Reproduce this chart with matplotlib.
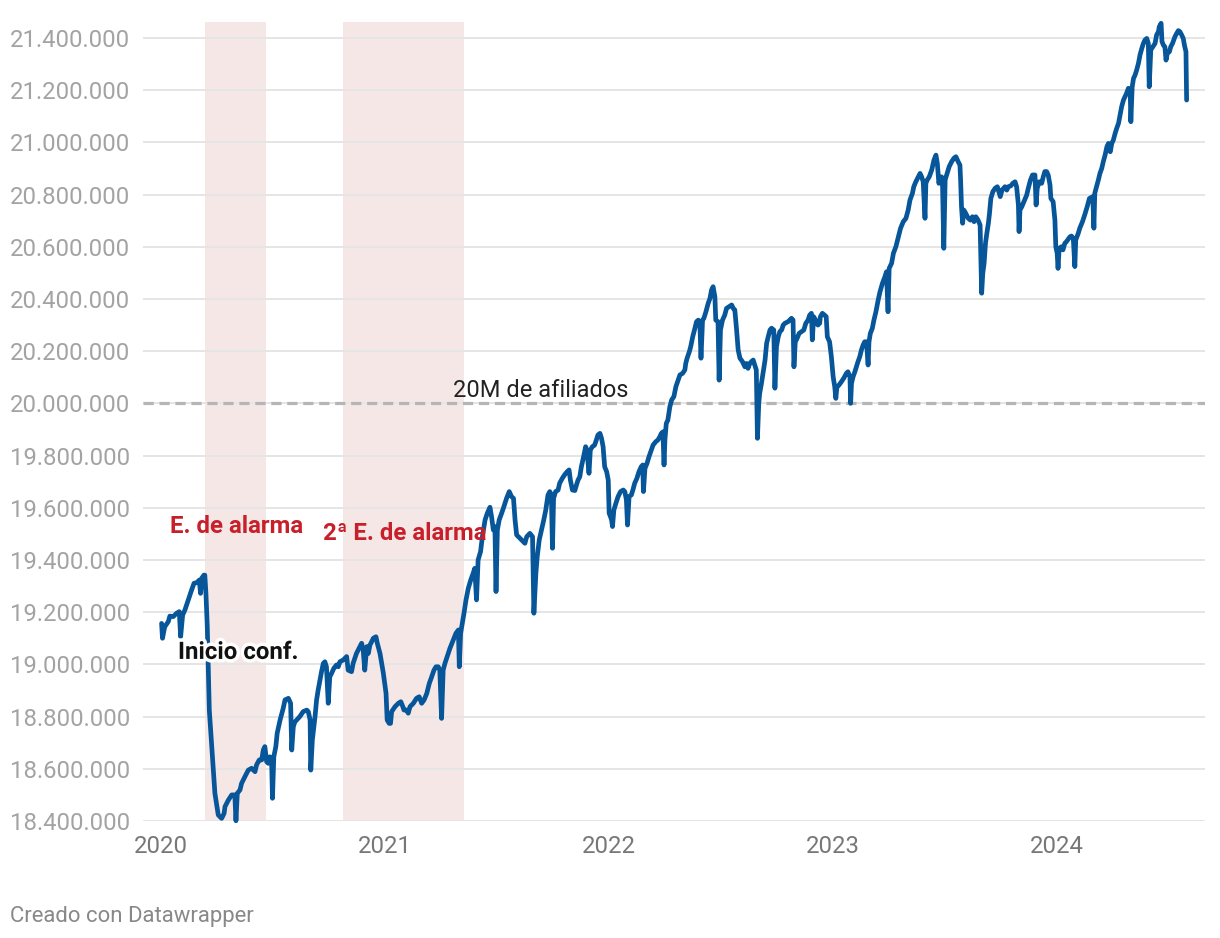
import matplotlib.pyplot as plt
import matplotlib.patheffects as pe

plt.rcParams["font.family"] = ["Roboto", "DejaVu Sans"]

# fecha en años decimales, afiliados en miles
fecha = [
    2020.003, 2020.007, 2020.017, 2020.033, 2020.040, 2020.055, 2020.070, 2020.082, 2020.088, 2020.097,
    2020.107, 2020.122, 2020.137, 2020.148, 2020.160, 2020.171, 2020.177, 2020.182, 2020.192, 2020.196,
    2020.201, 2020.207, 2020.216, 2020.226, 2020.241, 2020.256, 2020.271, 2020.282, 2020.286, 2020.301,
    2020.316, 2020.330, 2020.335, 2020.341, 2020.353, 2020.360, 2020.375, 2020.390, 2020.405, 2020.420,
    2020.427, 2020.439, 2020.450, 2020.457, 2020.464, 2020.472, 2020.479, 2020.486, 2020.494, 2020.498,
    2020.504, 2020.513, 2020.519, 2020.532, 2020.546, 2020.554, 2020.569, 2020.579, 2020.584, 2020.591,
    2020.598, 2020.606, 2020.620, 2020.635, 2020.651, 2020.658, 2020.666, 2020.669, 2020.676, 2020.688,
    2020.695, 2020.702, 2020.710, 2020.717, 2020.725, 2020.732, 2020.739, 2020.747, 2020.754, 2020.762,
    2020.772, 2020.784, 2020.792, 2020.799, 2020.814, 2020.829, 2020.836, 2020.851, 2020.858, 2020.873,
    2020.888, 2020.896, 2020.903, 2020.910, 2020.919, 2020.926, 2020.933, 2020.941, 2020.948, 2020.960,
    2020.966, 2020.978, 2020.993, 2021.005, 2021.010, 2021.019, 2021.025, 2021.030, 2021.045, 2021.060,
    2021.071, 2021.080, 2021.085, 2021.097, 2021.104, 2021.112, 2021.127, 2021.141, 2021.153, 2021.164,
    2021.175, 2021.187, 2021.198, 2021.209, 2021.219, 2021.228, 2021.238, 2021.245, 2021.253, 2021.260,
    2021.268, 2021.278, 2021.290, 2021.305, 2021.317, 2021.328, 2021.332, 2021.338, 2021.347, 2021.353,
    2021.362, 2021.372, 2021.383, 2021.394, 2021.401, 2021.409, 2021.416, 2021.427, 2021.435, 2021.447,
    2021.457, 2021.469, 2021.476, 2021.484, 2021.491, 2021.496, 2021.502, 2021.510, 2021.521, 2021.531,
    2021.543, 2021.555, 2021.565, 2021.574, 2021.581, 2021.588, 2021.603, 2021.618, 2021.625, 2021.633,
    2021.647, 2021.659, 2021.665, 2021.674, 2021.680, 2021.689, 2021.699, 2021.709, 2021.718, 2021.728,
    2021.736, 2021.743, 2021.748, 2021.753, 2021.762, 2021.773, 2021.780, 2021.792, 2021.802, 2021.813,
    2021.822, 2021.828, 2021.837, 2021.848, 2021.855, 2021.862, 2021.870, 2021.877, 2021.887, 2021.896,
    2021.902, 2021.911, 2021.917, 2021.926, 2021.936, 2021.944, 2021.951, 2021.960, 2021.967, 2021.974,
    2021.981, 2021.990, 2021.997, 2022.001, 2022.007, 2022.012, 2022.016, 2022.022, 2022.031, 2022.041,
    2022.052, 2022.064, 2022.071, 2022.078, 2022.083, 2022.090, 2022.100, 2022.107, 2022.115, 2022.125,
    2022.134, 2022.144, 2022.151, 2022.154, 2022.161, 2022.170, 2022.179, 2022.189, 2022.197, 2022.209,
    2022.219, 2022.227, 2022.234, 2022.241, 2022.246, 2022.250, 2022.256, 2022.263, 2022.272, 2022.280,
    2022.290, 2022.299, 2022.309, 2022.317, 2022.329, 2022.339, 2022.343, 2022.349, 2022.359, 2022.365,
    2022.374, 2022.384, 2022.391, 2022.399, 2022.406, 2022.411, 2022.418, 2022.424, 2022.433, 2022.443,
    2022.451, 2022.458, 2022.465, 2022.473, 2022.477, 2022.487, 2022.492, 2022.498, 2022.507, 2022.517,
    2022.525, 2022.536, 2022.548, 2022.555, 2022.562, 2022.570, 2022.577, 2022.585, 2022.596, 2022.607,
    2022.614, 2022.621, 2022.629, 2022.636, 2022.644, 2022.651, 2022.658, 2022.663, 2022.669, 2022.673,
    2022.681, 2022.688, 2022.697, 2022.704, 2022.711, 2022.719, 2022.726, 2022.736, 2022.741, 2022.748,
    2022.756, 2022.763, 2022.771, 2022.778, 2022.786, 2022.800, 2022.815, 2022.822, 2022.826, 2022.832,
    2022.840, 2022.849, 2022.860, 2022.870, 2022.879, 2022.889, 2022.896, 2022.904, 2022.908, 2022.914,
    2022.923, 2022.933, 2022.941, 2022.944, 2022.953, 2022.963, 2022.970, 2022.975, 2022.985, 2022.993,
    2023.001, 2023.008, 2023.013, 2023.018, 2023.027, 2023.038, 2023.048, 2023.060, 2023.067, 2023.076,
    2023.079, 2023.083, 2023.090, 2023.098, 2023.105, 2023.112, 2023.120, 2023.127, 2023.135, 2023.142,
    2023.150, 2023.157, 2023.161, 2023.167, 2023.176, 2023.183, 2023.192, 2023.202, 2023.210, 2023.221,
    2023.232, 2023.239, 2023.246, 2023.251, 2023.262, 2023.270, 2023.281, 2023.292, 2023.302, 2023.314,
    2023.326, 2023.336, 2023.344, 2023.355, 2023.361, 2023.370, 2023.381, 2023.389, 2023.396, 2023.403,
    2023.411, 2023.415, 2023.421, 2023.430, 2023.441, 2023.451, 2023.460, 2023.466, 2023.473, 2023.477,
    2023.485, 2023.489, 2023.495, 2023.501, 2023.510, 2023.519, 2023.530, 2023.540, 2023.549, 2023.559,
    2023.567, 2023.570, 2023.574, 2023.579, 2023.584, 2023.593, 2023.604, 2023.614, 2023.623, 2023.630,
    2023.638, 2023.648, 2023.657, 2023.664, 2023.669, 2023.675, 2023.681, 2023.687, 2023.694, 2023.699,
    2023.705, 2023.714, 2023.724, 2023.734, 2023.747, 2023.755, 2023.762, 2023.768, 2023.776, 2023.783,
    2023.794, 2023.803, 2023.813, 2023.820, 2023.828, 2023.831, 2023.835, 2023.843, 2023.853, 2023.865,
    2023.872, 2023.882, 2023.891, 2023.902, 2023.907, 2023.912, 2023.921, 2023.932, 2023.939, 2023.946,
    2023.954, 2023.961, 2023.969, 2023.973, 2023.983, 2023.991, 2023.995, 2024.001, 2024.005, 2024.010,
    2024.020, 2024.027, 2024.035, 2024.042, 2024.058, 2024.065, 2024.073, 2024.080, 2024.084, 2024.095,
    2024.102, 2024.114, 2024.124, 2024.135, 2024.145, 2024.160, 2024.165, 2024.169, 2024.177, 2024.185,
    2024.192, 2024.200, 2024.207, 2024.215, 2024.223, 2024.230, 2024.238, 2024.245, 2024.252, 2024.260,
    2024.267, 2024.275, 2024.282, 2024.289, 2024.297, 2024.304, 2024.311, 2024.319, 2024.327, 2024.330,
    2024.336, 2024.342, 2024.349, 2024.356, 2024.364, 2024.371, 2024.379, 2024.386, 2024.393, 2024.401,
    2024.408, 2024.412, 2024.419, 2024.428, 2024.438, 2024.445, 2024.453, 2024.457, 2024.465, 2024.469,
    2024.475, 2024.482, 2024.487, 2024.493, 2024.502, 2024.508, 2024.516, 2024.527, 2024.535, 2024.542,
    2024.549, 2024.557, 2024.564, 2024.569, 2024.576, 2024.579,
]

afiliados_miles = [
    19157, 19100, 19144, 19164, 19185, 19183, 19196, 19202, 19106, 19189,
    19208, 19247, 19285, 19311, 19313, 19323, 19272, 19330, 19342, 19342,
    19272, 19144, 18825, 18698, 18506, 18423, 18410, 18429, 18455, 18480,
    18500, 18500, 18401, 18506, 18519, 18544, 18570, 18595, 18602, 18589,
    18615, 18634, 18634, 18672, 18685, 18627, 18621, 18646, 18634, 18487,
    18646, 18685, 18736, 18787, 18832, 18864, 18870, 18851, 18672, 18761,
    18780, 18787, 18800, 18819, 18825, 18819, 18787, 18595, 18710, 18800,
    18864, 18902, 18940, 18972, 19004, 19010, 18991, 18851, 18953, 18966,
    18985, 18998, 18991, 19010, 19017, 19030, 18978, 18972, 19004, 19042,
    19068, 19081, 19055, 18978, 19068, 19042, 19074, 19087, 19100, 19106,
    19081, 19042, 18966, 18889, 18787, 18774, 18774, 18819, 18838, 18851,
    18857, 18838, 18825, 18825, 18813, 18838, 18851, 18870, 18876, 18851,
    18864, 18889, 18927, 18953, 18978, 18991, 18991, 18978, 18793, 18978,
    19004, 19030, 19061, 19093, 19119, 19132, 18991, 19119, 19164, 19196,
    19247, 19291, 19323, 19349, 19368, 19247, 19400, 19432, 19489, 19553,
    19579, 19602, 19566, 19515, 19528, 19279, 19515, 19553, 19579, 19604,
    19636, 19662, 19643, 19636, 19553, 19496, 19483, 19470, 19464, 19489,
    19502, 19489, 19196, 19349, 19413, 19477, 19515, 19553, 19591, 19649,
    19662, 19649, 19445, 19636, 19662, 19668, 19694, 19713, 19726, 19738,
    19745, 19706, 19668, 19666, 19687, 19706, 19719, 19757, 19796, 19834,
    19821, 19732, 19821, 19834, 19840, 19860, 19879, 19885, 19866, 19834,
    19757, 19738, 19706, 19579, 19566, 19553, 19528, 19591, 19617, 19643,
    19662, 19668, 19662, 19630, 19534, 19643, 19649, 19668, 19694, 19713,
    19738, 19757, 19764, 19662, 19751, 19770, 19796, 19821, 19840, 19853,
    19860, 19872, 19885, 19891, 19764, 19860, 19923, 19936, 19987, 20013,
    20026, 20064, 20089, 20109, 20115, 20128, 20153, 20173, 20198, 20217,
    20255, 20288, 20313, 20319, 20307, 20173, 20319, 20326, 20351, 20383,
    20402, 20434, 20447, 20409, 20319, 20313, 20089, 20281, 20319, 20338,
    20364, 20370, 20377, 20364, 20358, 20281, 20204, 20173, 20160, 20140,
    20153, 20134, 20153, 20160, 20166, 20147, 20128, 19866, 20000, 20038,
    20077, 20115, 20166, 20230, 20255, 20281, 20288, 20281, 20058, 20217,
    20255, 20275, 20281, 20300, 20307, 20313, 20326, 20319, 20140, 20236,
    20249, 20268, 20275, 20281, 20307, 20319, 20338, 20345, 20243, 20332,
    20319, 20300, 20307, 20332, 20345, 20338, 20332, 20255, 20236, 20179,
    20102, 20064, 20019, 20064, 20070, 20083, 20096, 20115, 20121, 20102,
    20000, 20077, 20102, 20121, 20140, 20160, 20179, 20204, 20224, 20236,
    20236, 20147, 20236, 20268, 20288, 20319, 20351, 20396, 20427, 20460,
    20485, 20504, 20351, 20517, 20537, 20575, 20600, 20638, 20671, 20696,
    20709, 20741, 20779, 20805, 20830, 20849, 20868, 20881, 20868, 20849,
    20709, 20843, 20856, 20868, 20894, 20932, 20951, 20920, 20843, 20856,
    20868, 20849, 20594, 20856, 20881, 20907, 20926, 20939, 20945, 20926,
    20913, 20856, 20753, 20690, 20741, 20728, 20709, 20702, 20715, 20696,
    20715, 20702, 20683, 20422, 20498, 20537, 20613, 20651, 20690, 20728,
    20785, 20811, 20824, 20830, 20792, 20817, 20824, 20830, 20817, 20830,
    20833, 20843, 20849, 20830, 20760, 20658, 20741, 20753, 20773, 20798,
    20824, 20856, 20875, 20875, 20760, 20824, 20849, 20843, 20868, 20888,
    20888, 20875, 20837, 20785, 20773, 20702, 20600, 20575, 20517, 20594,
    20600, 20588, 20613, 20619, 20638, 20641, 20632, 20524, 20626, 20651,
    20671, 20696, 20722, 20753, 20785, 20792, 20671, 20805, 20830, 20856,
    20881, 20900, 20926, 20951, 20983, 20996, 20964, 20996, 21009, 21035,
    21054, 21073, 21105, 21137, 21162, 21175, 21188, 21207, 21200, 21079,
    21213, 21245, 21258, 21277, 21303, 21335, 21360, 21379, 21392, 21398,
    21379, 21213, 21354, 21366, 21379, 21411, 21424, 21443, 21456, 21386,
    21373, 21366, 21315, 21341, 21347, 21366, 21379, 21405, 21418, 21428,
    21424, 21411, 21398, 21373, 21347, 21162,
]

estado_alarma = [(2020.199, 2020.470), (2020.814, 2021.351)]
anios = [2020, 2021, 2022, 2023, 2024]
ticks_y = list(range(18400, 21401, 200))
umbral = 20000

AZUL = "#08569a"
ROJO = "#c8202a"

fig = plt.figure(figsize=(12.2, 9.38), dpi=100)
ax = fig.add_axes([0.11721, 0.12473, 0.87049, 0.85181])

for ini, fin in estado_alarma:
    ax.axvspan(ini, fin, color="#f6e7e7", lw=0, zorder=0)

ax.set_yticks(ticks_y)
ax.set_yticklabels([f"{v * 1000:,}".replace(",", ".") for v in ticks_y])
ax.grid(axis="y", color="#e5e5e5", lw=1.4, zorder=1)
ax.set_axisbelow(True)

ax.axhline(umbral, color="#b5b5b5", lw=2.3, ls=(0, (3.2, 1.8)), zorder=2)
ax.plot(fecha, afiliados_miles, color=AZUL, lw=3.4, solid_joinstyle="round",
        solid_capstyle="round", zorder=3, clip_on=False)

ax.set_xlim(2019.920, 2024.661)
ax.set_ylim(18400, 21461)
ax.set_xticks(anios)
ax.set_xticklabels([str(a) for a in anios])

for s in ax.spines.values():
    s.set_visible(False)
ax.tick_params(axis="both", length=0)
ax.tick_params(axis="y", pad=96, labelsize=17.2, labelcolor="#a3a3a3")
ax.tick_params(axis="x", pad=10, labelsize=17.2, labelcolor="#777777")
for lab in ax.get_yticklabels():
    lab.set_horizontalalignment("left")

ax.text(2020.339, 19503, "E. de alarma", color=ROJO, fontsize=17.3,
        fontweight="bold", ha="center", va="baseline", zorder=4)
ax.text(2021.089, 19476, "2ª E. de alarma", color=ROJO, fontsize=17.3,
        fontweight="bold", ha="center", va="baseline", zorder=4)
ax.text(2020.344, 19021, "Inicio conf.", color="#111111", fontsize=17.3,
        fontweight="bold", ha="center", va="baseline", zorder=5,
        path_effects=[pe.withStroke(linewidth=5, foreground="white")])
ax.text(2021.694, 20025, "20M de afiliados", color="#222222", fontsize=17,
        ha="center", va="baseline", zorder=4)

fig.text(10 / 1220, 0.0174, "Creado con Datawrapper", color="#888888",
         fontsize=15.9, ha="left", va="baseline")

fig.savefig("out.png", dpi=100)
